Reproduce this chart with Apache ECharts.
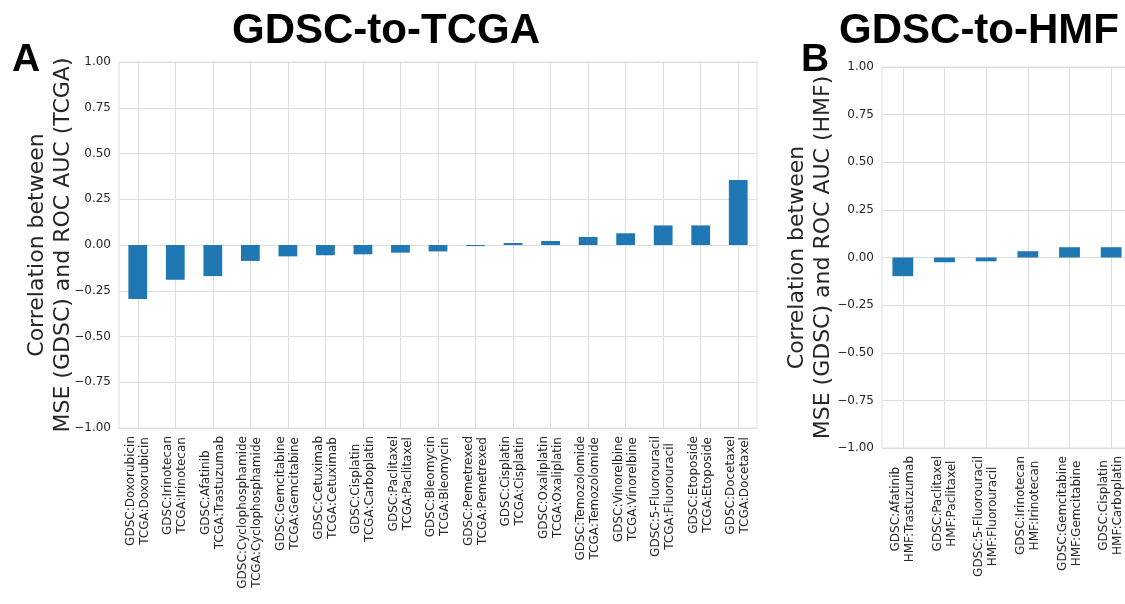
<!DOCTYPE html>
<html>
<head>
<meta charset="utf-8">
<script src="https://cdn.jsdelivr.net/npm/echarts@6/dist/echarts.min.js"></script>
<style>
  html, body { margin: 0; padding: 0; background: #fff; }
  #chart { width: 1125px; height: 604px; }
</style>
</head>
<body>
<div id="chart"></div>
<script>
// Drug pairs (training drug : target drug) and their correlations
const tcgaCategories = [
  'GDSC:Doxorubicin\nTCGA:Doxorubicin',
  'GDSC:Irinotecan\nTCGA:Irinotecan',
  'GDSC:Afatinib\nTCGA:Trastuzumab',
  'GDSC:Cyclophosphamide\nTCGA:Cyclophosphamide',
  'GDSC:Gemcitabine\nTCGA:Gemcitabine',
  'GDSC:Cetuximab\nTCGA:Cetuximab',
  'GDSC:Cisplatin\nTCGA:Carboplatin',
  'GDSC:Paclitaxel\nTCGA:Paclitaxel',
  'GDSC:Bleomycin\nTCGA:Bleomycin',
  'GDSC:Pemetrexed\nTCGA:Pemetrexed',
  'GDSC:Cisplatin\nTCGA:Cisplatin',
  'GDSC:Oxaliplatin\nTCGA:Oxaliplatin',
  'GDSC:Temozolomide\nTCGA:Temozolomide',
  'GDSC:Vinorelbine\nTCGA:Vinorelbine',
  'GDSC:5-Fluorouracil\nTCGA:Fluorouracil',
  'GDSC:Etoposide\nTCGA:Etoposide',
  'GDSC:Docetaxel\nTCGA:Docetaxel'
];
const tcgaValues = [-0.295, -0.19, -0.17, -0.087, -0.062, -0.056, -0.051, -0.042,
  -0.035, -0.006, 0.011, 0.022, 0.044, 0.064, 0.107, 0.107, 0.355];

const hmfCategories = [
  'GDSC:Afatinib\nHMF:Trastuzumab',
  'GDSC:Paclitaxel\nHMF:Paclitaxel',
  'GDSC:5-Fluorouracil\nHMF:Fluorouracil',
  'GDSC:Irinotecan\nHMF:Irinotecan',
  'GDSC:Gemcitabine\nHMF:Gemcitabine',
  'GDSC:Cisplatin\nHMF:Carboplatin'
];
const hmfValues = [-0.098, -0.025, -0.02, 0.033, 0.054, 0.054];

const yMin = -1, yMax = 1, yStep = 0.25;

const FONT = 'DejaVu Sans';
const TEXT = '#262626';
const GRID = '#dedede';
const BAR = '#1f77b4';

function tickText(v) {
  const s = Math.abs(v).toFixed(2);
  return v < -1e-9 ? '\u2212' + s : s;
}

// each line of a two-line category label is centred within the label block
function catLabel(value) {
  return value.split('\n').map(function (l) { return '{c|' + l + '}'; }).join('\n');
}

function xAxisFor(gridIndex, cats) {
  return {
    type: 'category',
    gridIndex: gridIndex,
    data: cats,
    axisLine: { show: false },
    axisTick: { show: false, alignWithLabel: true },
    splitLine: { show: true, alignWithLabel: true, lineStyle: { color: GRID, width: 1 } },
    axisLabel: {
      interval: 0,
      rotate: 90,
      margin: 8,
      formatter: catLabel,
      rich: {
        c: { align: 'center', fontFamily: FONT, fontSize: 12, color: TEXT, lineHeight: 14 }
      }
    }
  };
}

function yAxisFor(gridIndex, name, gap) {
  return {
    type: 'value',
    gridIndex: gridIndex,
    min: yMin, max: yMax, interval: yStep,
    axisLine: { show: false },
    axisTick: { show: false },
    splitLine: { show: true, lineStyle: { color: GRID, width: 1 } },
    axisLabel: { formatter: tickText, fontFamily: FONT, fontSize: 12, color: TEXT, margin: 8 },
    name: name,
    nameLocation: 'middle',
    nameRotate: 90,
    nameGap: gap,
    nameMoveOverlap: false,
    nameTextStyle: { fontFamily: FONT, fontSize: 22, color: TEXT, lineHeight: 26, align: 'center' }
  };
}

const chart = echarts.init(document.getElementById('chart'), null, { renderer: 'canvas' });

chart.setOption({
  animation: false,
  backgroundColor: '#ffffff',
  title: [
    { text: 'GDSC-to-TCGA', left: 381, top: 5, textAlign: 'center',
      textStyle: { fontFamily: 'Liberation Sans', fontWeight: 'bold', fontSize: 42, color: '#000' } },
    { text: 'GDSC-to-HMF', left: 974, top: 5, textAlign: 'center',
      textStyle: { fontFamily: 'Liberation Sans', fontWeight: 'bold', fontSize: 42, color: '#000' } },
    { text: 'A', left: 7, top: 36,
      textStyle: { fontFamily: 'Liberation Sans', fontWeight: 'bold', fontSize: 39, color: '#000' } },
    { text: 'B', left: 796, top: 36,
      textStyle: { fontFamily: 'Liberation Sans', fontWeight: 'bold', fontSize: 39, color: '#000' } }
  ],
  grid: [
    { left: 119, top: 62, right: 368, height: 366, show: true, borderColor: GRID, borderWidth: 1,
      containLabel: false, outerBoundsMode: 'none' },
    { left: 882, top: 67, right: -7, height: 381, show: true, borderColor: GRID, borderWidth: 1,
      containLabel: false, outerBoundsMode: 'none' }
  ],
  xAxis: [xAxisFor(0, tcgaCategories), xAxisFor(1, hmfCategories)],
  yAxis: [
    yAxisFor(0, 'Correlation between\nMSE (GDSC) and ROC AUC (TCGA)', 43),
    yAxisFor(1, 'Correlation between\nMSE (GDSC) and ROC AUC (HMF)', 46)
  ],
  series: [
    { type: 'bar', xAxisIndex: 0, yAxisIndex: 0, data: tcgaValues, barWidth: '50%',
      itemStyle: { color: BAR } },
    { type: 'bar', xAxisIndex: 1, yAxisIndex: 1, data: hmfValues, barWidth: '50%',
      itemStyle: { color: BAR } }
  ]
});
</script>
</body>
</html>
